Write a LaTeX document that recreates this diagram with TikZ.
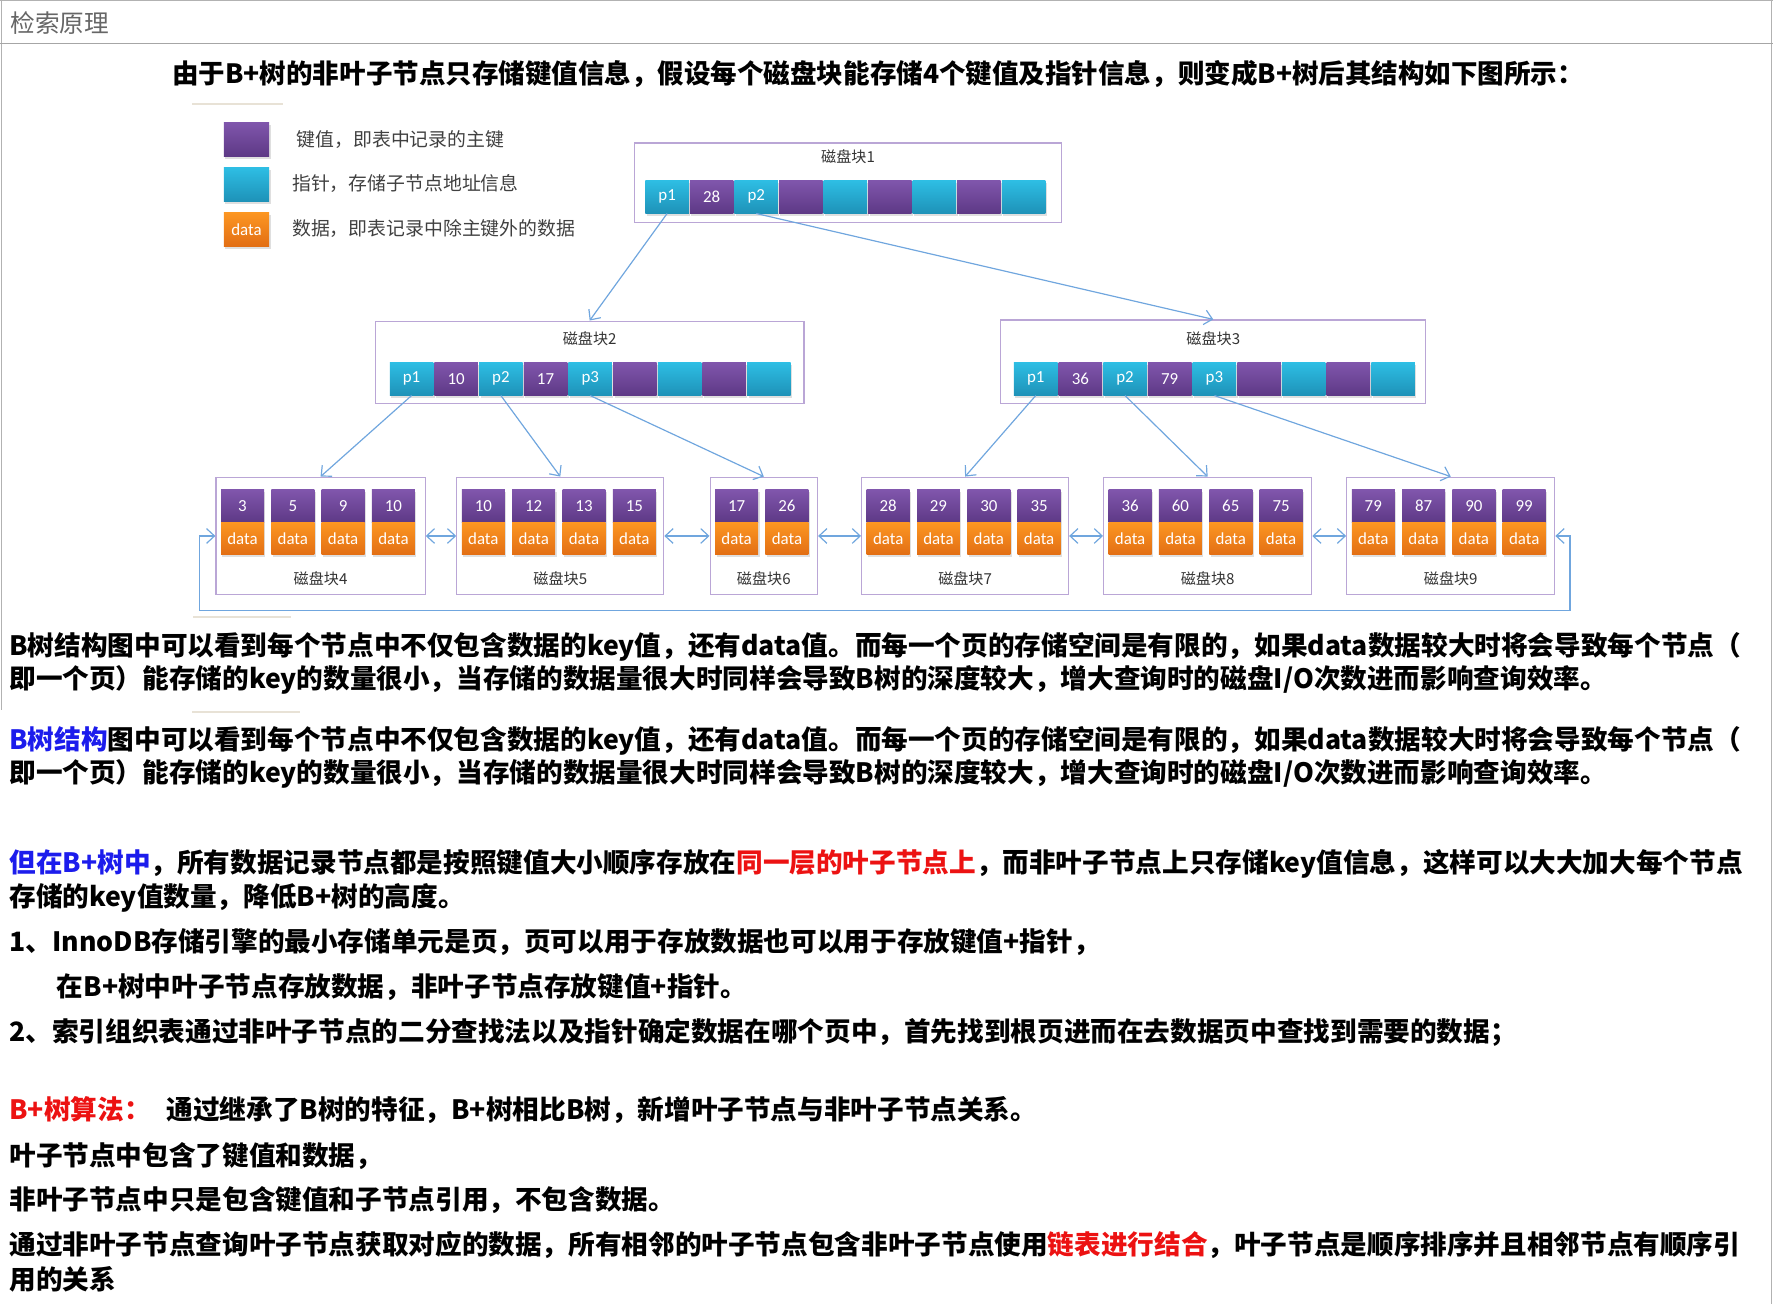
\documentclass[tikz,border=0pt]{standalone}
\usepackage{fontspec}
\setmainfont{Noto Sans CJK SC}
\newfontfamily\cellfont{Carlito}
\usetikzlibrary{arrows.meta,calc,shadows}

\definecolor{keytop}{RGB}{128,86,172}
\definecolor{keybot}{RGB}{94,57,134}
\definecolor{ptrtop}{RGB}{46,190,228}
\definecolor{ptrbot}{RGB}{30,146,184}
\definecolor{dattop}{RGB}{252,150,34}
\definecolor{datbot}{RGB}{226,110,20}
\definecolor{boxline}{RGB}{186,166,214}
\definecolor{linkblue}{RGB}{112,166,222}
\definecolor{textblue}{RGB}{28,28,236}
\definecolor{textred}{RGB}{236,18,18}
\definecolor{fadeline}{RGB}{232,226,214}

\tikzset{
    cell/.style       = {minimum width=7.7mm, minimum height=5.8mm, inner sep=0pt,
                         text=white, font=\cellfont\fontsize{8.5}{9}\selectfont,
                         drop shadow={shadow xshift=0.25mm, shadow yshift=-0.45mm, opacity=0.25}},
    keycell/.style    = {cell, top color=keytop, bottom color=keybot},
    ptrcell/.style    = {cell, top color=ptrtop, bottom color=ptrbot},
    datacell/.style   = {cell, top color=dattop, bottom color=datbot},
    leafkey/.style    = {keycell, minimum width=7.6mm, minimum height=5.7mm},
    leafdata/.style   = {datacell, minimum width=7.6mm, minimum height=5.7mm},
    blockbox/.style   = {draw=boxline, line width=0.6pt, inner sep=0pt},
    blocklabel/.style = {text=black!80, font=\fontsize{7.6}{9}\selectfont},
    link/.style       = {-{Straight Barb[length=1.4mm,width=2.6mm]}, draw=linkblue, line width=0.6pt},
    twoway/.style     = {{Straight Barb[length=1.4mm,width=2.6mm]}-{Straight Barb[length=1.4mm,width=2.6mm]},
                         draw=linkblue, line width=0.6pt},
    legendtext/.style = {anchor=west, inner sep=0pt, text=black!75, font=\fontsize{9.5}{11}\selectfont},
    body/.style       = {anchor=west, inner sep=0pt, font=\fontsize{13.4}{16}\selectfont\bfseries}
}

\begin{document}
\begin{tikzpicture}[x=0.2mm, y=-0.2mm]

    \def\px{0.2mm}

    % ---------- page frame and title bar ----------
    \useasboundingbox (0,0) rectangle (1568,1153);
    \draw[black!30] (0,0.5) -- (1568,0.5);
    \draw[black!30] (1.5,0) -- (1.5,628);
    \draw[black!30] (1566.5,0) -- (1566.5,1153);
    \draw[black!35] (0,38) -- (1568,38);
    \node[anchor=west, inner sep=0pt, text=black!60, font=\fontsize{12.4}{14}\selectfont]
      (title) at (9,20) {检索原理};

    \node[body, font=\fontsize{13.35}{16}\selectfont\bfseries] (head) at (152,65)
      {由于B+树的非叶子节点只存储键值信息，假设每个磁盘块能存储4个键值及指针信息，则变成B+树后其结构如下图所示：};

    % faint rules left over from the screenshot
    \draw[fadeline, line width=1pt] (170,92) -- (250,92);
    \draw[fadeline, line width=1pt] (171,546) -- (257,546);
    \draw[fadeline, line width=1pt] (170,630) -- (265,630);

    % =================================================
    % 1. Legend
    % =================================================
    \node[keycell, minimum width=8mm, minimum height=6mm]  (legkey)  at (218,123) {};
    \node[ptrcell, minimum width=8mm, minimum height=6mm]  (legptr)  at (218,163) {};
    \node[datacell, minimum width=8mm, minimum height=6mm] (legdata) at (218,203) {data};
    \node[legendtext] (legkeytxt)  at (262,123) {键值，即表中记录的主键};
    \node[legendtext] (legptrtxt)  at (258,162) {指针，存储子节点地址信息};
    \node[legendtext] (legdatatxt) at (258,202) {数据，即表记录中除主键外的数据};

    % =================================================
    % 2. Root and inner disk blocks
    % =================================================
    \node[blockbox, minimum width=378*\px, minimum height=70*\px] (blk1) at (750,161.5) {};
    \node[blocklabel] (lab1) at ($(blk1.north)+(0,13)$) {磁盘块1};
    \foreach \s/\v [count=\i] in {ptrcell/p1, keycell/28, ptrcell/p2, keycell/{}, ptrcell/{},
                                  keycell/{}, ptrcell/{}, keycell/{}, ptrcell/{}}
      \node[\s] (b1-\i) at ($(blk1.north west)+({29.5+39.4*(\i-1)},48)$) {\v};

    \node[blockbox, minimum width=379*\px, minimum height=73*\px] (blk2) at (521.5,320.5) {};
    \node[blocklabel] (lab2) at ($(blk2.north)+(0,16)$) {磁盘块2};
    \foreach \s/\v [count=\i] in {ptrcell/p1, keycell/10, ptrcell/p2, keycell/17, ptrcell/p3,
                                  keycell/{}, ptrcell/{}, keycell/{}, ptrcell/{}}
      \node[\s] (b2-\i) at ($(blk2.north west)+({32.5+39.5*(\i-1)},51.5)$) {\v};

    \node[blockbox, minimum width=376*\px, minimum height=74*\px] (blk3) at (1073,320) {};
    \node[blocklabel] (lab3) at ($(blk3.north)+(0,17)$) {磁盘块3};
    \foreach \s/\v [count=\i] in {ptrcell/p1, keycell/36, ptrcell/p2, keycell/79, ptrcell/p3,
                                  keycell/{}, ptrcell/{}, keycell/{}, ptrcell/{}}
      \node[\s] (b3-\i) at ($(blk3.north west)+({31.5+39.5*(\i-1)},52.5)$) {\v};

    % =================================================
    % 3. Leaf blocks (keys + data)
    % =================================================
    \foreach \n/\x/\w/\keys in {4/283.5/185/{3,5,9,10}, 5/495.5/183/{10,12,13,15},
                                6/675.5/95/{17,26}, 7/853.5/183/{28,29,30,35},
                                8/1068/184/{36,60,65,75}, 9/1283/184/{79,87,90,99}} {
      \node[blockbox, minimum width=\w*\px, minimum height=104*\px] (leaf\n) at (\x,474) {};
      \node[blocklabel] (lab\n) at ($(leaf\n.south)+(0,-15)$) {磁盘块\n};
      \foreach \k [count=\i] in \keys {
        \node[leafkey]  (l\n-k\i) at ($(leaf\n.north west)+({24+44.5*(\i-1)},26)$) {\k};
        \node[leafdata] (l\n-d\i) at ($(leaf\n.north west)+({24+44.5*(\i-1)},55)$) {data};
      }
    }

    % =================================================
    % 4. Pointers and leaf links
    % =================================================
    \draw[link] (b1-1.south) -- (blk2.north);
    \draw[link] (b1-3.south) -- (blk3.north);
    \draw[link] (b2-1.south) -- (leaf4.north);
    \draw[link] (b2-3.south) -- (leaf5.north);
    \draw[link] (b2-5.south) -- (leaf6.north);
    \draw[link] (b3-1.south) -- (leaf7.north);
    \draw[link] (b3-3.south) -- (leaf8.north);
    \draw[link] (b3-5.south) -- (leaf9.north);

    \foreach \a/\b in {4/5, 5/6, 6/7, 7/8, 8/9}
      \draw[twoway] (leaf\a.east) -- (leaf\b.west);

    \coordinate (loopL) at ($(leaf4.west)+(-14,66)$);
    \coordinate (loopR) at ($(leaf9.east)+(13,66)$);
    \draw[twoway] (leaf4.west) -| (loopL) -- (loopR) |- (leaf9.east);

    % =================================================
    % 5. Notes below the figure
    % =================================================
    \node[body] (p1a) at (8,572)
      {B树结构图中可以看到每个节点中不仅包含数据的key值，还有data值。而每一个页的存储空间是有限的，如果data数据较大时将会导致每个节点（};
    \node[body] (p1b) at (8,601)
      {即一个页）能存储的key的数量很小，当存储的数据量很大时同样会导致B树的深度较大，增大查询时的磁盘I/O次数进而影响查询效率。};
    \node[body] (p2a) at (8,655)
      {\textcolor{textblue}{B树结构}图中可以看到每个节点中不仅包含数据的key值，还有data值。而每一个页的存储空间是有限的，如果data数据较大时将会导致每个节点（};
    \node[body] (p2b) at (8,684)
      {即一个页）能存储的key的数量很小，当存储的数据量很大时同样会导致B树的深度较大，增大查询时的磁盘I/O次数进而影响查询效率。};
    \node[body] (p3a) at (8,764)
      {\textcolor{textblue}{但在B+树中}，所有数据记录节点都是按照键值大小顺序存放在\textcolor{textred}{同一层的叶子节点上}，而非叶子节点上只存储key值信息，这样可以大大加大每个节点};
    \node[body] (p3b) at (8,794) {存储的key值数量，降低B+树的高度。};
    \node[body] (p4a) at (8,833)
      {1、InnoDB存储引擎的最小存储单元是页，页可以用于存放数据也可以用于存放键值+指针，};
    \node[body] (p4b) at (50,873) {在B+树中叶子节点存放数据，非叶子节点存放键值+指针。};
    \node[body] (p5) at (8,913)
      {2、索引组织表通过非叶子节点的二分查找法以及指针确定数据在哪个页中，首先找到根页进而在去数据页中查找到需要的数据；};
    \node[body] (p6) at (8,982)
      {\textcolor{textred}{B+树算法：}\hspace{0.6em}通过继承了B树的特征，B+树相比B树，新增叶子节点与非叶子节点关系。};
    \node[body] (p7) at (8,1022) {叶子节点中包含了键值和数据，};
    \node[body] (p8) at (8,1061) {非叶子节点中只是包含键值和子节点引用，不包含数据。};
    \node[body] (p9a) at (8,1101)
      {通过非叶子节点查询叶子节点获取对应的数据，所有相邻的叶子节点包含非叶子节点使用\textcolor{textred}{链表进行结合}，叶子节点是顺序排序并且相邻节点有顺序引};
    \node[body] (p9b) at (8,1131) {用的关系};

\end{tikzpicture}
\end{document}
